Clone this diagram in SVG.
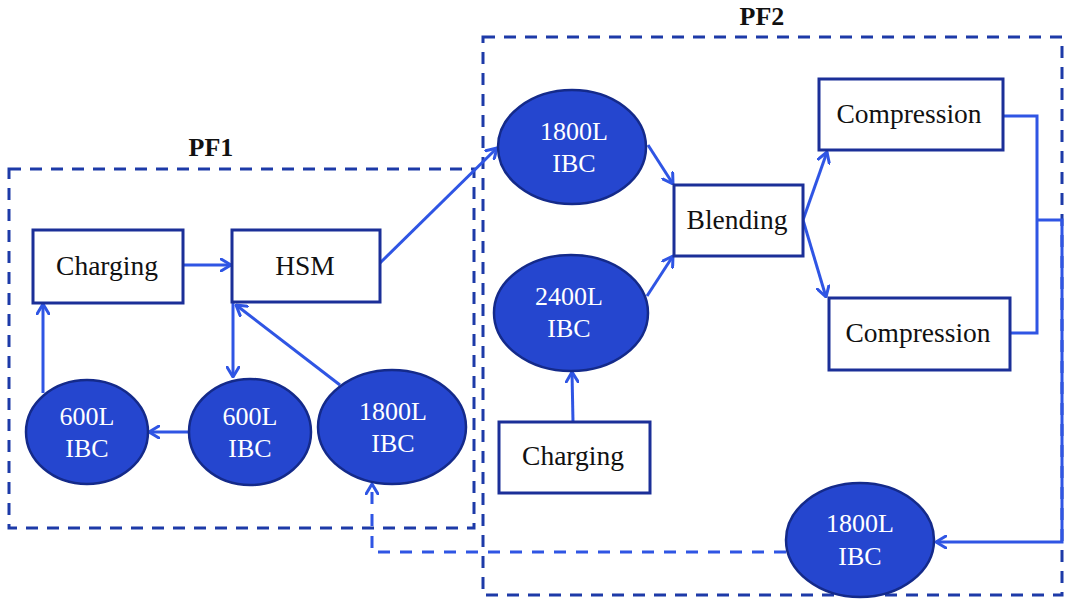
<svg xmlns="http://www.w3.org/2000/svg" width="1066" height="600" viewBox="0 0 1066 600">
  <defs>
    <marker id="arrow" viewBox="0 0 12 14" refX="11" refY="7" markerWidth="12" markerHeight="14" markerUnits="userSpaceOnUse" orient="auto">
      <path d="M1,1 L11,7 L1,13" fill="none" stroke="#2f55e4" stroke-width="3" stroke-linecap="round" stroke-linejoin="round"/>
    </marker>
    <style>
      .zone { fill: none; stroke: #1d3aa8; stroke-width: 3; stroke-dasharray: 12 9; }
      .zone-label { font-family: "Liberation Serif", "Times New Roman", serif; font-size: 26px; font-weight: bold; fill: #111; text-anchor: middle; }
      .box { fill: #fff; stroke: #1b2f98; stroke-width: 3; }
      .box-text { font-family: "Liberation Serif", "Times New Roman", serif; font-size: 27.5px; fill: #111; text-anchor: middle; }
      .ibc { fill: #2546cf; stroke: #142a8a; stroke-width: 2.5; }
      .ibc-text { font-family: "Liberation Serif", "Times New Roman", serif; font-size: 26px; fill: #fff; text-anchor: middle; }
      .link { fill: none; stroke: #2f55e4; stroke-width: 3; stroke-linejoin: miter; }
      .link-arrow { marker-end: url(#arrow); }
      .link-dash { stroke-dasharray: 12 10; }
    </style>
  </defs>

  <rect width="1066" height="600" fill="#fff"/>

  <!-- process zones -->
  <g id="zone-pf1">
    <rect class="zone" x="9" y="169" width="465" height="359"/>
    <text class="zone-label" x="211" y="156">PF1</text>
  </g>
  <g id="zone-pf2">
    <rect class="zone" x="483" y="37" width="579" height="558"/>
    <text class="zone-label" x="762" y="25">PF2</text>
  </g>

  <!-- connectors -->
  <g id="connectors">
    <line class="link link-arrow" x1="183" y1="265" x2="231" y2="265"/>
    <line class="link link-arrow" x1="380" y1="263" x2="497" y2="148"/>
    <line class="link link-arrow" x1="233" y1="303" x2="233" y2="377"/>
    <line class="link link-arrow" x1="340" y1="385" x2="236" y2="305"/>
    <line class="link link-arrow" x1="189" y1="432" x2="149" y2="432"/>
    <line class="link link-arrow" x1="43" y1="393" x2="43" y2="304"/>
    <line class="link link-arrow" x1="648" y1="145" x2="673" y2="184"/>
    <line class="link link-arrow" x1="647" y1="296" x2="673" y2="256"/>
    <line class="link link-arrow" x1="573" y1="422" x2="572" y2="372"/>
    <line class="link link-arrow" x1="803" y1="220" x2="827" y2="152"/>
    <line class="link link-arrow" x1="803" y1="220" x2="826" y2="297"/>
    <polyline class="link" points="1003,116 1037,116 1037,333 1010,333"/>
    <polyline class="link link-arrow" points="1037,220 1062,220 1062,542 936,542"/>
    <polyline class="link link-arrow link-dash" points="786,552 372,552 372,484"/>
  </g>

  <!-- PF1 nodes -->
  <g id="charging-pf1">
    <rect class="box" x="33" y="230" width="150" height="73"/>
    <text class="box-text" x="107" y="275">Charging</text>
  </g>
  <g id="hsm">
    <rect class="box" x="232" y="230" width="148" height="72"/>
    <text class="box-text" x="305" y="275">HSM</text>
  </g>
  <g id="ibc-600-a">
    <ellipse class="ibc" cx="87" cy="432" rx="61" ry="52"/>
    <text class="ibc-text" x="87" y="425">600L</text>
    <text class="ibc-text" x="87" y="457">IBC</text>
  </g>
  <g id="ibc-600-b">
    <ellipse class="ibc" cx="250" cy="432" rx="61" ry="53"/>
    <text class="ibc-text" x="250" y="425">600L</text>
    <text class="ibc-text" x="250" y="457">IBC</text>
  </g>
  <g id="ibc-1800-pf1">
    <ellipse class="ibc" cx="392" cy="427" rx="74" ry="57"/>
    <text class="ibc-text" x="393" y="420">1800L</text>
    <text class="ibc-text" x="393" y="452">IBC</text>
  </g>

  <!-- PF2 nodes -->
  <g id="ibc-1800-in">
    <ellipse class="ibc" cx="572" cy="147" rx="74" ry="57"/>
    <text class="ibc-text" x="574" y="140">1800L</text>
    <text class="ibc-text" x="574" y="172">IBC</text>
  </g>
  <g id="ibc-2400">
    <ellipse class="ibc" cx="571" cy="313" rx="77" ry="58"/>
    <text class="ibc-text" x="569" y="305">2400L</text>
    <text class="ibc-text" x="569" y="337">IBC</text>
  </g>
  <g id="charging-pf2">
    <rect class="box" x="499" y="422" width="151" height="71"/>
    <text class="box-text" x="573" y="465">Charging</text>
  </g>
  <g id="blending">
    <rect class="box" x="674" y="185" width="129" height="71"/>
    <text class="box-text" x="737" y="229">Blending</text>
  </g>
  <g id="compression-a">
    <rect class="box" x="819" y="79" width="184" height="71"/>
    <text class="box-text" x="909" y="123">Compression</text>
  </g>
  <g id="compression-b">
    <rect class="box" x="829" y="298" width="181" height="72"/>
    <text class="box-text" x="918" y="342">Compression</text>
  </g>
  <g id="ibc-1800-out">
    <ellipse class="ibc" cx="860" cy="540" rx="74" ry="57"/>
    <text class="ibc-text" x="860" y="532">1800L</text>
    <text class="ibc-text" x="860" y="565">IBC</text>
  </g>
</svg>
